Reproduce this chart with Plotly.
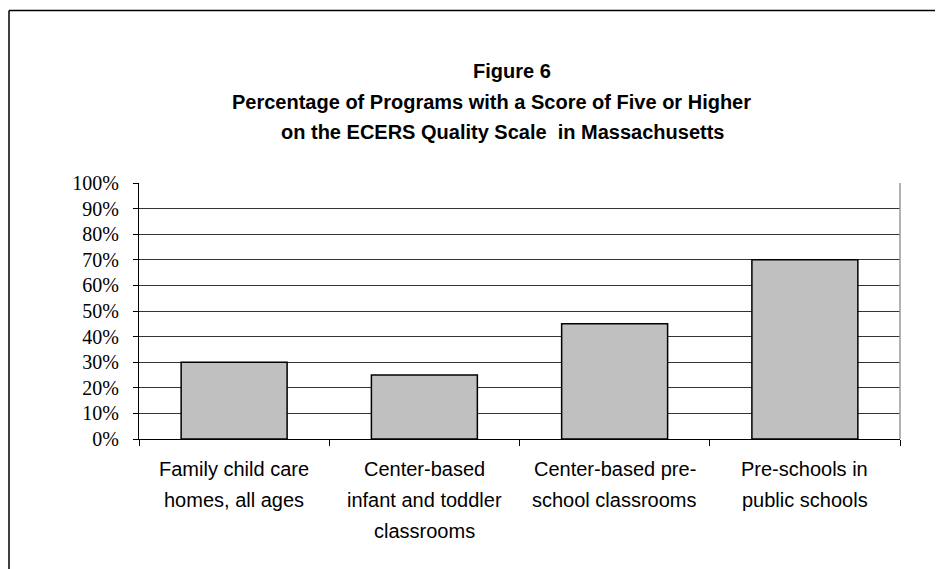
import plotly.graph_objects as go

# Chart data
categories = [
    "Family child care<br>homes, all ages",
    "Center-based<br>infant and toddler<br>classrooms",
    "Center-based pre-<br>school classrooms",
    "Pre-schools in<br>public schools",
]
share_score_5plus = [0.30, 0.25, 0.45, 0.70]
y_ticks = [i / 10 for i in range(11)]
y_tick_labels = [f"{i * 10}%" for i in range(11)]
title_lines = [
    "Figure 6",
    "Percentage of Programs with a Score of Five or Higher",
    "on the ECERS Quality Scale  in Massachusetts",
]

# page has an 8px body margin, so the figure is 8px smaller than the window
W, H = 935, 561
L, R, T, B = 131, 43, 175, 130
plot_w = W - L - R
plot_h = H - T - B

SANS = "Liberation Sans, Arial, sans-serif"
SERIF = "Liberation Serif, Times New Roman, serif"


def px_x(px):
    return (px - L) / plot_w


def px_y(py):
    return (H - B - py) / plot_h


fig = go.Figure(
    go.Bar(
        x=categories,
        y=share_score_5plus,
        marker=dict(color="#c0c0c0", line=dict(color="#000000", width=1.5)),
        width=0.557,
    )
)

fig.update_layout(
    width=W,
    height=H,
    margin=dict(l=L, r=R, t=T, b=B),
    paper_bgcolor="white",
    plot_bgcolor="white",
    showlegend=False,
    font=dict(family=SANS, color="#000000"),
)

fig.update_xaxes(
    tickson="boundaries",
    ticks="outside",
    ticklen=6,
    tickcolor="#000000",
    showline=True,
    linecolor="#000000",
    linewidth=1,
    showgrid=False,
    showticklabels=False,
)

fig.update_yaxes(
    range=[0, 1],
    tickvals=y_ticks,
    ticktext=y_tick_labels,
    ticks="outside",
    ticklen=5,
    tickcolor="#000000",
    showline=True,
    linecolor="#000000",
    linewidth=1,
    showgrid=True,
    gridcolor="#333333",
    gridwidth=1,
    zeroline=False,
    tickfont=dict(family=SERIF, size=20),
    ticklabelstandoff=10,
)

# category labels, one annotation per line so the line spacing matches
for cat in categories:
    for j, part in enumerate(cat.split("<br>")):
        fig.add_annotation(
            text=part, x=cat, xref="x", yref="paper",
            y=px_y(461 + 31 * j), xanchor="center", yanchor="middle",
            showarrow=False, font=dict(family=SANS, size=20, color="#000000"),
        )

# right edge of the plot area, gray like the original
fig.add_shape(type="line", xref="paper", yref="paper", x0=1, x1=1, y0=0, y1=1,
              line=dict(color="#999999", width=1.5))
# outer chart frame (left and top edges)
fig.add_shape(type="line", xref="paper", yref="paper",
              x0=px_x(1), x1=px_x(1), y0=px_y(H), y1=px_y(2.5),
              line=dict(color="#000000", width=1.5))
fig.add_shape(type="line", xref="paper", yref="paper",
              x0=px_x(1), x1=px_x(W), y0=px_y(2.5), y1=px_y(2.5),
              line=dict(color="#000000", width=1.5))

for line, (xc, yc) in zip(title_lines, [(504, 63), (483, 94), (494, 124)]):
    fig.add_annotation(
        text=f"<b>{line}</b>",
        xref="paper", yref="paper",
        x=px_x(xc), y=px_y(yc),
        xanchor="center", yanchor="middle",
        showarrow=False,
        font=dict(family=SANS, size=20, color="#000000"),
    )

fig.write_html("out.html")
